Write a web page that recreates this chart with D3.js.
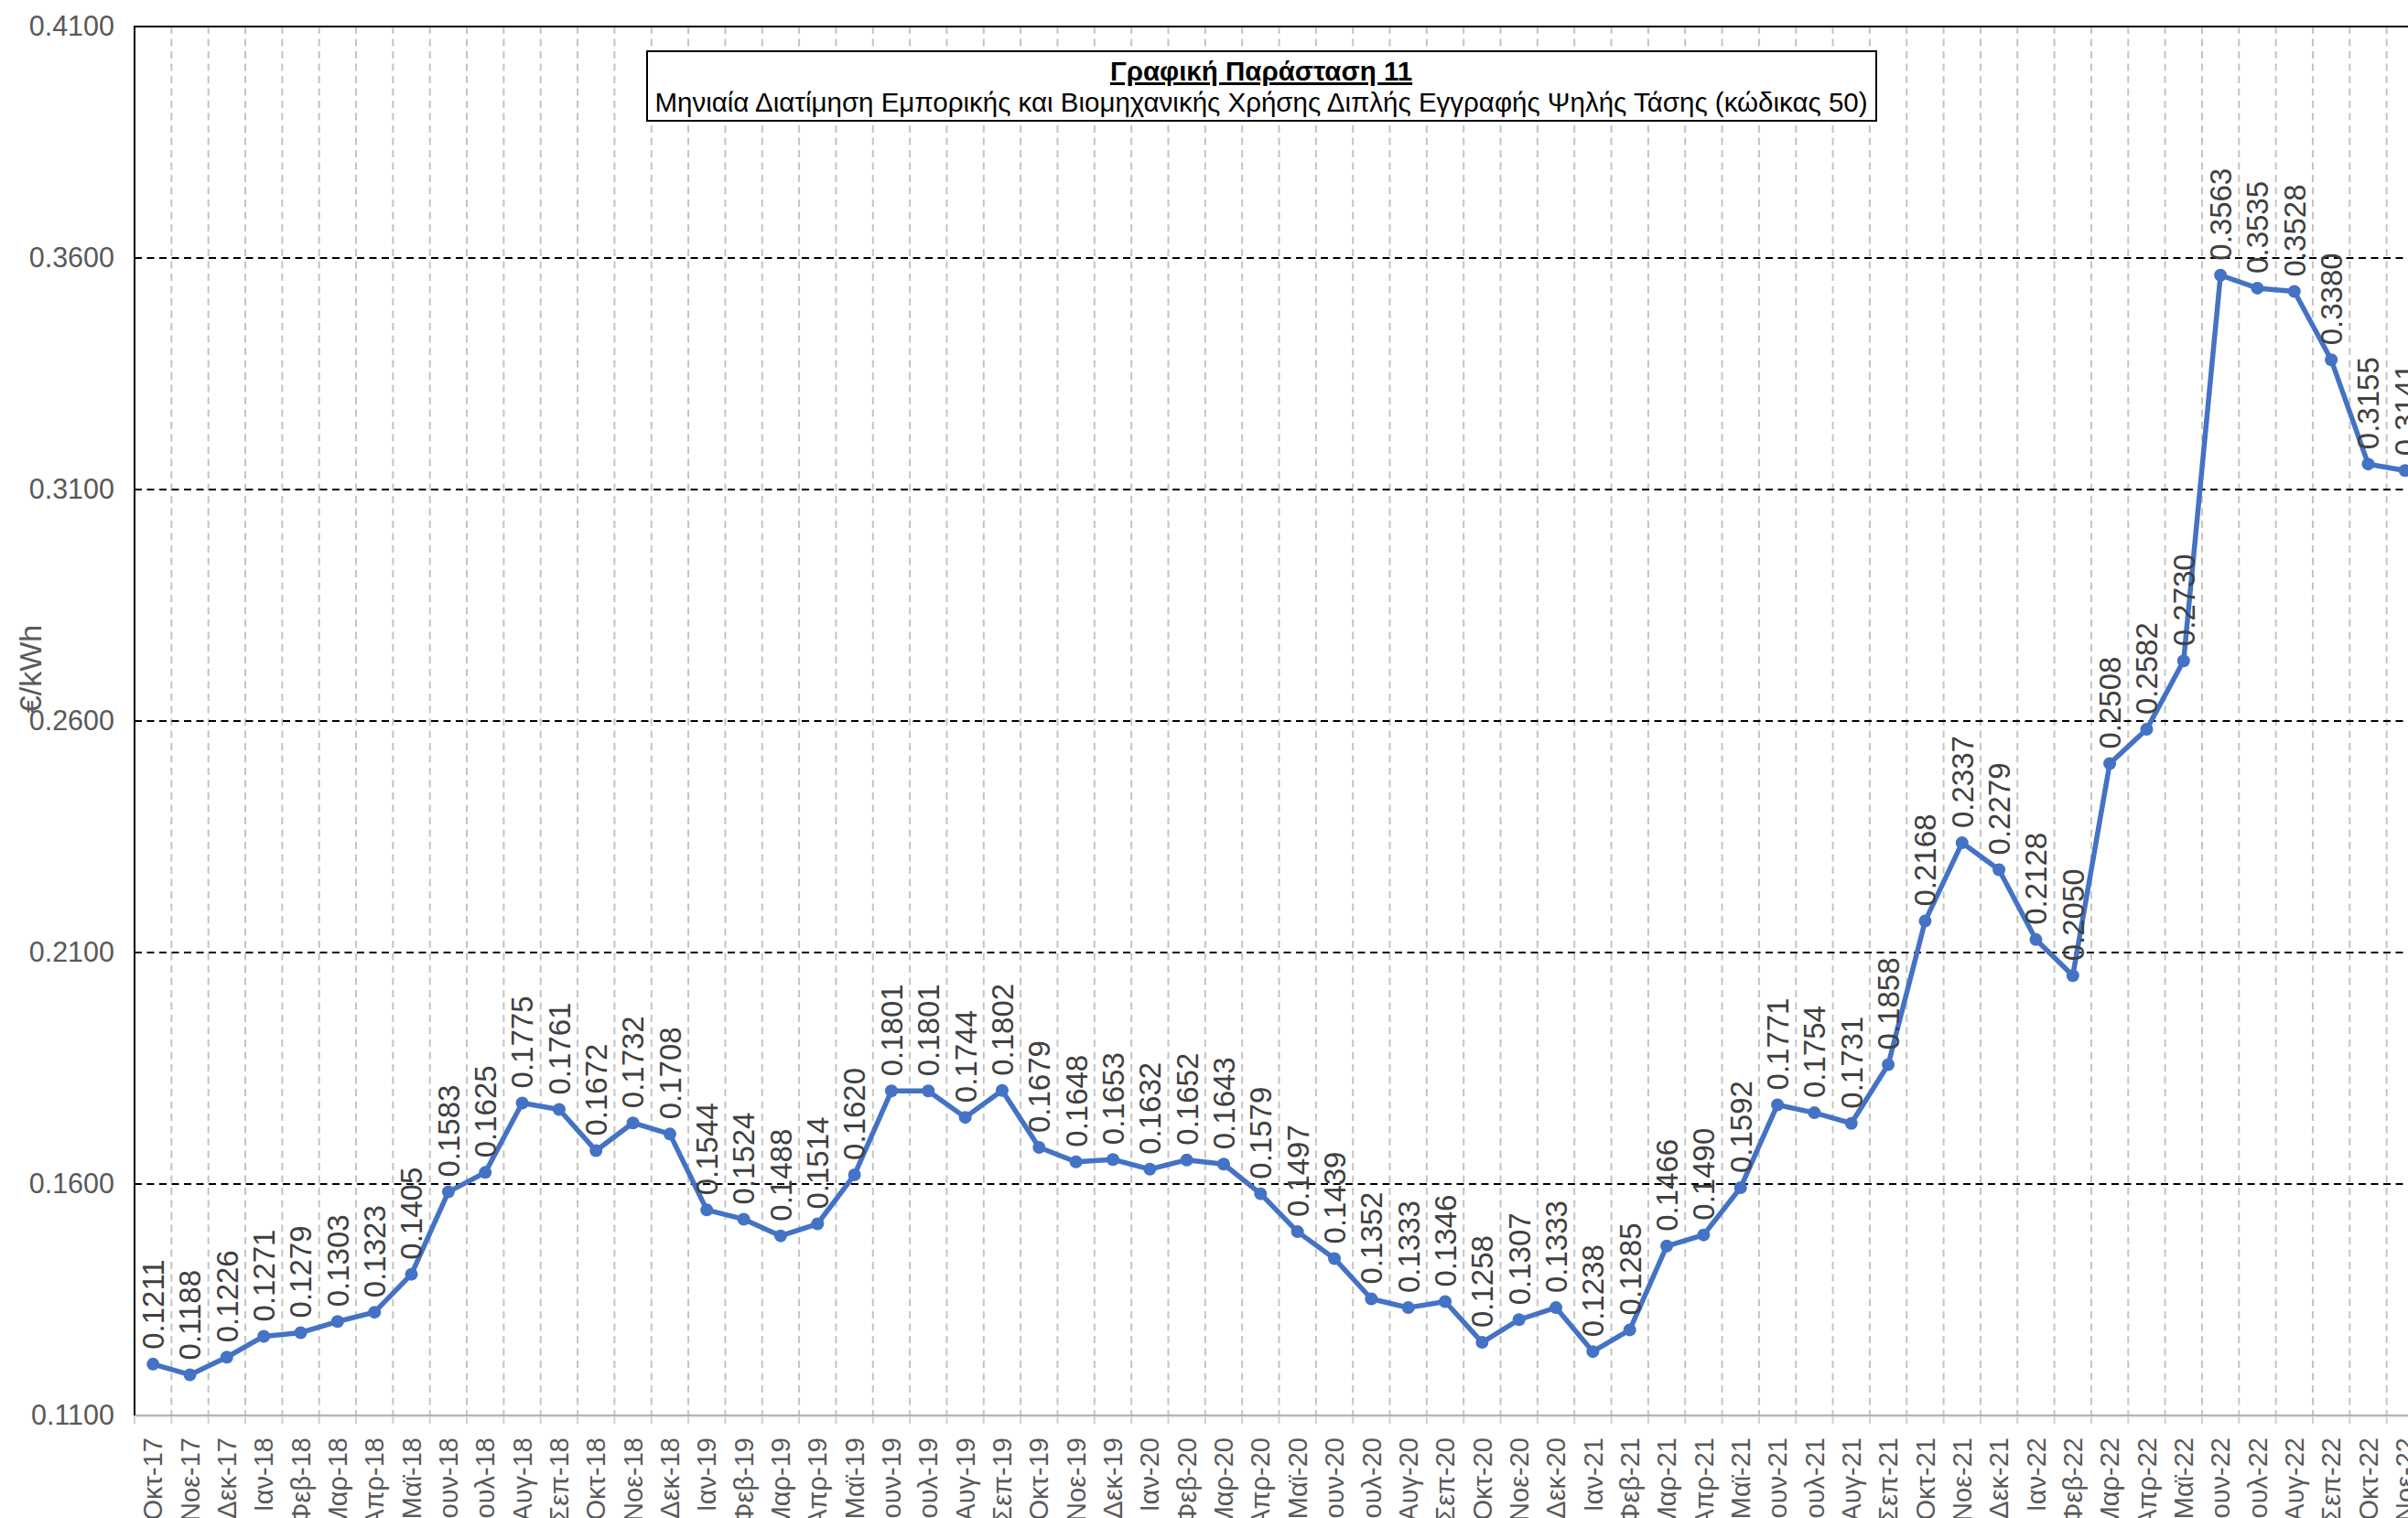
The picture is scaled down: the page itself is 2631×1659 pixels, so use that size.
<!DOCTYPE html>
<html>
<head>
<meta charset="utf-8">
<script src="https://cdn.jsdelivr.net/npm/d3@7"></script>
<style>
	body { margin: 0; background: #fff; }
	svg { display: block; font-family: "Liberation Sans", Arial, sans-serif; }
</style>
</head>
<body>
<div id="chart"></div>
<script>

// Categories (months, Greek abbreviations as in the source chart)
let months = [
	'Οκτ-17', 'Νοε-17', 'Δεκ-17',
	'Ιαν-18', 'Φεβ-18', 'Μαρ-18', 'Απρ-18', 'Μαϊ-18', 'Ιουν-18', 'Ιουλ-18', 'Αυγ-18', 'Σεπ-18', 'Οκτ-18', 'Νοε-18', 'Δεκ-18',
	'Ιαν-19', 'Φεβ-19', 'Μαρ-19', 'Απρ-19', 'Μαϊ-19', 'Ιουν-19', 'Ιουλ-19', 'Αυγ-19', 'Σεπ-19', 'Οκτ-19', 'Νοε-19', 'Δεκ-19',
	'Ιαν-20', 'Φεβ-20', 'Μαρ-20', 'Απρ-20', 'Μαϊ-20', 'Ιουν-20', 'Ιουλ-20', 'Αυγ-20', 'Σεπ-20', 'Οκτ-20', 'Νοε-20', 'Δεκ-20',
	'Ιαν-21', 'Φεβ-21', 'Μαρ-21', 'Απρ-21', 'Μαϊ-21', 'Ιουν-21', 'Ιουλ-21', 'Αυγ-21', 'Σεπ-21', 'Οκτ-21', 'Νοε-21', 'Δεκ-21',
	'Ιαν-22', 'Φεβ-22', 'Μαρ-22', 'Απρ-22', 'Μαϊ-22', 'Ιουν-22', 'Ιουλ-22', 'Αυγ-22', 'Σεπ-22', 'Οκτ-22', 'Νοε-22'
];

// €/kWh per month
let prices = [
	0.1211, 0.1188, 0.1226,
	0.1271, 0.1279, 0.1303, 0.1323, 0.1405, 0.1583, 0.1625, 0.1775, 0.1761, 0.1672, 0.1732, 0.1708,
	0.1544, 0.1524, 0.1488, 0.1514, 0.1620, 0.1801, 0.1801, 0.1744, 0.1802, 0.1679, 0.1648, 0.1653,
	0.1632, 0.1652, 0.1643, 0.1579, 0.1497, 0.1439, 0.1352, 0.1333, 0.1346, 0.1258, 0.1307, 0.1333,
	0.1238, 0.1285, 0.1466, 0.1490, 0.1592, 0.1771, 0.1754, 0.1731, 0.1858, 0.2168, 0.2337, 0.2279,
	0.2128, 0.2050, 0.2508, 0.2582, 0.2730, 0.3563, 0.3535, 0.3528, 0.3380, 0.3155, 0.3141
];

let yTicks = [0.11, 0.16, 0.21, 0.26, 0.31, 0.36, 0.41];

let titleLine1 = 'Γραφική Παράσταση 11';
let titleLine2 = 'Μηνιαία Διατίμηση Εμπορικής και Βιομηχανικής Χρήσης Διπλής Εγγραφής Ψηλής Τάσης (κώδικας 50)';
let yTitle = '€/kWh';

let width = 2631;
let height = 1659;

// plot area (right edge runs past the picture, as in the original)
let plotLeft = 147, plotTop = 29, plotRight = 2648, plotBottom = 1547;

let data = months.map(function(m, i) {
	return { month: m, value: prices[i] };
});

let svg = d3.select('#chart').append('svg')
	.attr('width', width)
	.attr('height', height);

svg.append('rect').attr('width', width).attr('height', height).attr('fill', '#fff');

let x = d3.scaleBand().domain(months).range([plotLeft, plotRight]).padding(0);
let y = d3.scaleLinear().domain([0.11, 0.41]).range([plotBottom, plotTop]);
let fmt = d3.format('.4f');

// vertical gridlines between categories
let bounds = months.slice(1).map(function(m) { return x(m); });
svg.append('g').selectAll('line').data(bounds).enter().append('line')
	.attr('x1', function(d) { return d; })
	.attr('x2', function(d) { return d; })
	.attr('y1', plotTop)
	.attr('y2', plotBottom)
	.attr('stroke', '#c4c4c4')
	.attr('stroke-width', 2)
	.attr('stroke-dasharray', '8,5.5');

// horizontal gridlines
svg.append('g').selectAll('line').data(yTicks.slice(1, -1)).enter().append('line')
	.attr('x1', plotLeft)
	.attr('x2', plotRight)
	.attr('y1', function(d) { return y(d); })
	.attr('y2', function(d) { return y(d); })
	.attr('stroke', '#000')
	.attr('stroke-width', 2)
	.attr('stroke-dasharray', '8,5.5');

// plot border
svg.append('rect')
	.attr('x', plotLeft).attr('y', plotTop)
	.attr('width', plotRight - plotLeft).attr('height', plotBottom - plotTop)
	.attr('fill', 'none')
	.attr('stroke', '#000')
	.attr('stroke-width', 2);

// x axis: gray line, ticks between categories, rotated labels
let xAxis = svg.append('g')
	.attr('transform', 'translate(0,' + plotBottom + ')')
	.call(d3.axisBottom(x).tickSize(0).tickPadding(0));
xAxis.select('.domain').attr('stroke', '#d0d0d0').attr('stroke-width', 2.5);
xAxis.selectAll('text')
	.attr('transform', 'rotate(-90)')
	.attr('text-anchor', 'end')
	.attr('x', -24)
	.attr('y', 0)
	.attr('dy', '0.35em')
	.attr('fill', '#595959')
	.style('font-size', '29px')
	.style('font-family', '"Liberation Sans", Arial, sans-serif');

svg.append('g').selectAll('line').data([plotLeft].concat(bounds)).enter().append('line')
	.attr('x1', function(d) { return d; })
	.attr('x2', function(d) { return d; })
	.attr('y1', plotBottom)
	.attr('y2', plotBottom + 9)
	.attr('stroke', '#d0d0d0')
	.attr('stroke-width', 2);

// y axis labels
let yAxis = svg.append('g')
	.attr('transform', 'translate(' + plotLeft + ',0)')
	.call(d3.axisLeft(y).tickValues(yTicks).tickFormat(fmt).tickSize(0).tickPadding(22));
yAxis.select('.domain').remove();
yAxis.selectAll('text')
	.attr('fill', '#595959')
	.style('font-size', '30.5px')
	.style('font-family', '"Liberation Sans", Arial, sans-serif');

// y axis title
svg.append('text')
	.attr('transform', 'translate(33,731) rotate(-90)')
	.attr('text-anchor', 'middle')
	.attr('dy', '0.35em')
	.attr('fill', '#595959')
	.style('font-size', '34px')
	.text(yTitle);

// series line
let line = d3.line()
	.x(function(d) { return x(d.month) + x.bandwidth() / 2; })
	.y(function(d) { return y(d.value); });

svg.append('path')
	.datum(data)
	.attr('d', line)
	.attr('fill', 'none')
	.attr('stroke', '#4472C4')
	.attr('stroke-width', 5.5)
	.attr('stroke-linejoin', 'round');

let pts = svg.append('g').selectAll('g').data(data).enter().append('g')
	.attr('class', 'point');

pts.append('circle')
	.attr('cx', function(d) { return x(d.month) + x.bandwidth() / 2; })
	.attr('cy', function(d) { return y(d.value); })
	.attr('r', 7)
	.attr('fill', '#4472C4');

// value labels, rotated, above each point
pts.append('text')
	.attr('transform', function(d) {
		return 'translate(' + (x(d.month) + x.bandwidth() / 2) + ',' + (y(d.value) - 16) + ') rotate(-90)';
	})
	.attr('text-anchor', 'start')
	.attr('dy', '0.36em')
	.attr('fill', '#404040')
	.style('font-size', '33px')
	.text(function(d) { return fmt(d.value); });

// title box
let tb = svg.append('g');
tb.append('rect')
	.attr('x', 707).attr('y', 56)
	.attr('width', 1343).attr('height', 76)
	.attr('fill', '#fff')
	.attr('stroke', '#000')
	.attr('stroke-width', 2);
tb.append('text')
	.attr('x', 1378).attr('y', 88)
	.attr('text-anchor', 'middle')
	.attr('fill', '#000')
	.style('font-size', '29.5px')
	.style('font-weight', 'bold')
	.style('text-decoration', 'underline')
	.text(titleLine1);
tb.append('text')
	.attr('x', 1378).attr('y', 122)
	.attr('text-anchor', 'middle')
	.attr('fill', '#000')
	.style('font-size', '29.5px')
	.text(titleLine2);

</script>
</body>
</html>
